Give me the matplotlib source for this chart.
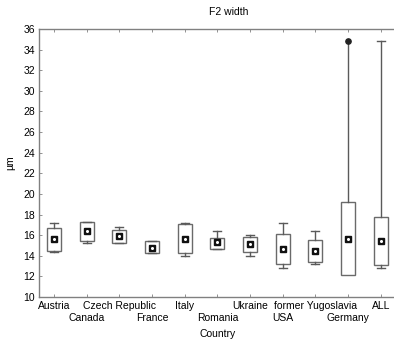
import numpy as np
import matplotlib.pyplot as plt

plt.rcParams['font.family'] = ['Liberation Sans', 'DejaVu Sans']

countries = ['Austria', 'Canada', 'Czech Republic', 'France', 'Italy', 'Romania',
             'Ukraine', 'USA', 'former Yugoslavia', 'Germany', 'ALL']
medians = [15.6, 16.4, 15.9, 14.8, 15.6, 15.3, 15.15, 14.65, 14.5, 15.6, 15.45]
q1 = [14.5, 15.45, 15.25, 14.25, 14.3, 14.7, 14.4, 13.25, 13.35, 12.1, 13.1]
q3 = [16.7, 17.25, 16.5, 15.4, 17.05, 15.75, 15.85, 16.1, 15.5, 19.2, 17.8]
mins = [14.4, 15.25, 15.2, 14.25, 13.95, 14.7, 13.95, 12.8, 13.2, 12.1, 12.8]
maxs = [17.2, 17.25, 16.75, 15.4, 17.2, 16.4, 16.0, 17.2, 16.4, 34.8, 34.8]

stats = []
for i, name in enumerate(countries):
    stats.append({'label': name, 'med': medians[i], 'mean': medians[i],
                  'q1': q1[i], 'q3': q3[i], 'whislo': mins[i], 'whishi': maxs[i],
                  'fliers': []})

fig = plt.figure(figsize=(3.94, 3.44), dpi=100)
ax = fig.add_axes([0.099, 0.1366, 0.908, 0.779])

pos = np.arange(len(countries))
caps = [0.25] * len(countries)
caps[9] = 0.0
ax.bxp(stats, positions=pos, widths=0.43, capwidths=caps, showmeans=True,
       showfliers=False, patch_artist=True, manage_ticks=False,
       boxprops=dict(facecolor='white', edgecolor='#6a6a6a', linewidth=1.0),
       whiskerprops=dict(color='#5a5a5a', linewidth=1.0),
       capprops=dict(color='#5a5a5a', linewidth=1.0),
       medianprops=dict(linestyle='none'),
       meanprops=dict(marker='s', markersize=5, markerfacecolor='#111111',
                      markeredgecolor='#111111'))
ax.plot(pos, medians, 'o', color='white', markersize=1.2, zorder=5)
# maximum of Germany marked with a dot
ax.plot([pos[9]], [maxs[9]], 'o', color='#222222', markersize=3.8, zorder=5)

ax.set_xlim(-0.46, 10.49)
ax.set_ylim(10, 36)
ax.set_yticks(np.arange(10, 37, 2))

# labels staggered in two rows: even categories on major ticks, odd on minor
ax.set_xticks(pos[::2])
ax.set_xticklabels(countries[::2])
ax.set_xticks(pos[1::2], minor=True)
ax.set_xticklabels(countries[1::2], minor=True)
ax.tick_params(which='both', direction='in', top=True, right=True, length=2.5,
               width=0.6, color='#808080', labelsize=7.5, pad=3)
ax.tick_params(axis='x', which='minor', pad=11.8)
for s in ax.spines.values():
    s.set_color('#808080')
    s.set_linewidth(1.0)

ax.set_xlabel('Country', fontsize=7.5, labelpad=4)
ax.set_ylabel('µm', fontsize=7.5, labelpad=6)
fig.text(229 / 394, 1 - 12 / 344, 'F2 width', fontsize=7.5, ha='center', va='center')

fig.savefig('out.png', dpi=100)
